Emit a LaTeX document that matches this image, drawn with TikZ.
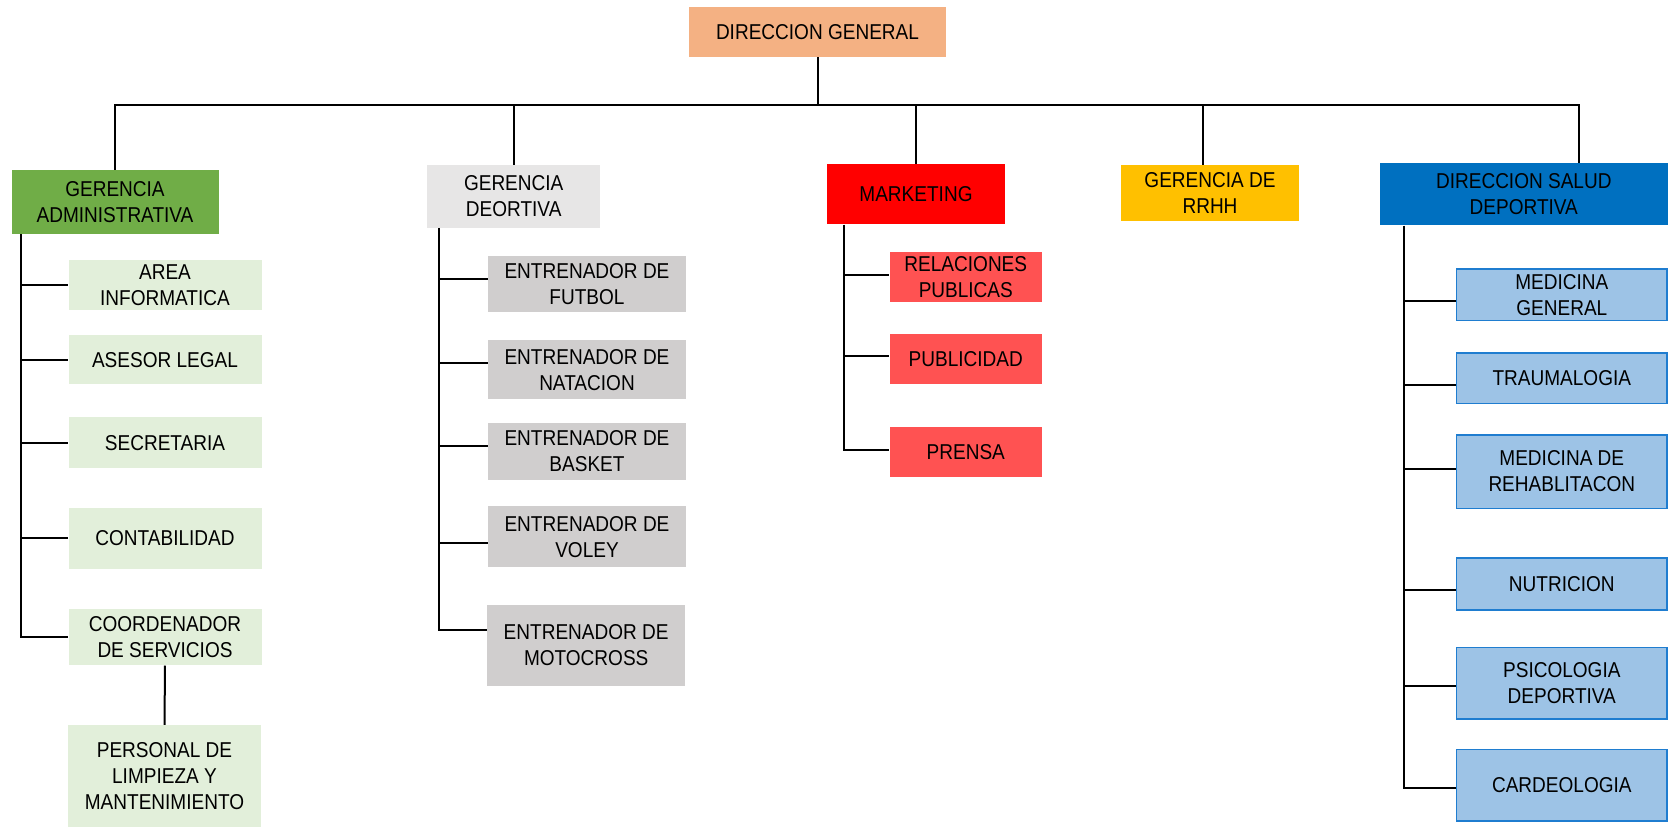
\documentclass[tikz,border=0pt]{standalone}
\usepackage{fontspec}
\setmainfont[FakeStretch=0.885]{Liberation Sans}

\definecolor{cDG}{HTML}{F4B183}
\definecolor{cGA}{HTML}{70AD47}
\definecolor{cGAl}{HTML}{E2EFDA}
\definecolor{cGD}{HTML}{E7E6E6}
\definecolor{cGDl}{HTML}{D0CECE}
\definecolor{cMK}{HTML}{FF0000}
\definecolor{cMKl}{HTML}{FF5252}
\definecolor{cRH}{HTML}{FFC000}
\definecolor{cDS}{HTML}{0070C0}
\definecolor{cDSl}{HTML}{9DC3E6}
\definecolor{cDSb}{HTML}{1F7DD0}

\begin{document}
\begin{tikzpicture}[x=1pt,y=-1pt,
  box/.style={inner sep=0pt, align=center, text=black,
    font=\fontsize{21.5}{26}\selectfont},
  salud/.style={box, fill=cDSl, draw=cDSb, line width=1.5pt},
  link/.style={line width=2pt, black}]
\useasboundingbox (0,0) rectangle (1674,827);

% top level
\node[box, fill=cDG, minimum width=257pt, minimum height=50pt] (dg) at (817.5,32) {DIRECCION GENERAL};

% second level
\node[box, fill=cGA, minimum width=207pt, minimum height=64pt] (ga) at (115,202) {GERENCIA\\ADMINISTRATIVA};
\node[box, fill=cGD, minimum width=173.5pt, minimum height=63pt] (gd) at (513.7,196.2) {GERENCIA\\DEORTIVA};
\node[box, fill=cMK, minimum width=178pt, minimum height=60.6pt] (mk) at (916,194) {MARKETING};
\node[box, fill=cRH, minimum width=178pt, minimum height=56pt] (rh) at (1210,192.7) {GERENCIA DE\\RRHH};
\node[box, fill=cDS, minimum width=287.6pt, minimum height=62pt] (ds) at (1523.8,194.3) {DIRECCION SALUD\\DEPORTIVA};

% administrative units
\begin{scope}[every node/.append style={box, fill=cGAl, minimum width=193pt}]
\node[minimum height=50.7pt] (a1) at (165,285) {AREA\\INFORMATICA};
\node[minimum height=49.3pt] (a2) at (165,359.7) {ASESOR LEGAL};
\node[minimum height=50.4pt] (a3) at (165,442.6) {SECRETARIA};
\node[minimum height=60.7pt] (a4) at (165,538.4) {CONTABILIDAD};
\node[minimum height=56pt] (a5) at (165,637.3) {COORDENADOR\\DE SERVICIOS};
\node[minimum height=101.7pt] (a6) at (164.5,775.8) {PERSONAL DE\\LIMPIEZA Y\\MANTENIMIENTO};
\end{scope}

% coaches
\begin{scope}[every node/.append style={box, fill=cGDl, minimum width=198pt}]
\node[minimum height=56pt] (e1) at (587,284.3) {ENTRENADOR DE\\FUTBOL};
\node[minimum height=59.3pt] (e2) at (587,369.7) {ENTRENADOR DE\\NATACION};
\node[minimum height=57.3pt] (e3) at (587,451.3) {ENTRENADOR DE\\BASKET};
\node[minimum height=61.3pt] (e4) at (587,536.7) {ENTRENADOR DE\\VOLEY};
\node[minimum height=81pt] (e5) at (586.2,645.5) {ENTRENADOR DE\\MOTOCROSS};
\end{scope}

% marketing units
\begin{scope}[every node/.append style={box, fill=cMKl, minimum width=152.3pt}]
\node[minimum height=50pt] (m1) at (965.8,277.3) {RELACIONES\\PUBLICAS};
\node[minimum height=50.3pt] (m2) at (965.8,358.8) {PUBLICIDAD};
\node[minimum height=49.4pt] (m3) at (965.8,452) {PRENSA};
\end{scope}

% sports health units
\begin{scope}[every node/.append style={salud, minimum width=210.3pt}]
\node[minimum height=51.8pt] (s1) at (1561.8,294.7) {MEDICINA\\GENERAL};
\node[minimum height=50.6pt] (s2) at (1561.8,378.3) {TRAUMALOGIA};
\node[minimum height=73.5pt] (s3) at (1561.8,471.5) {MEDICINA DE\\REHABLITACON};
\node[minimum height=51.8pt] (s4) at (1561.8,584.1) {NUTRICION};
\node[minimum height=71.2pt] (s5) at (1561.8,683.3) {PSICOLOGIA\\DEPORTIVA};
\node[minimum height=71.6pt] (s6) at (1561.8,785.1) {CARDEOLOGIA};
\end{scope}

% main bus
\coordinate (bus) at (0,105);
\coordinate (dstop) at ([xshift=55pt]ds.north);
\coordinate (rhtop) at ([xshift=-7pt]rh.north);
\draw[link] (dg.south) -- (dg.south |- bus);
\draw[link] (ga.north) -- (ga.north |- bus) -- (dstop |- bus) -- (dstop);
\draw[link] (gd.north) -- (gd.north |- bus);
\draw[link] (mk.north) -- (mk.north |- bus);
\draw[link] (rhtop) -- (rhtop |- bus);

% administrative branch
\coordinate (gabar) at ([xshift=9.5pt]ga.south west);
\draw[link] (gabar) |- (a5.west);
\foreach \n in {a1,a2,a3,a4}
  \draw[link] (gabar |- \n.west) -- (\n.west);
\draw[link] (a5.south) -- (a6.north);

% coaches branch
\coordinate (gdbar) at ([xshift=12.3pt]gd.south west);
\coordinate (e1p) at ([yshift=5pt]e1.west);
\coordinate (e2p) at ([yshift=6.4pt]e2.west);
\coordinate (e3p) at ([yshift=5.3pt]e3.west);
\coordinate (e4p) at ([yshift=-6pt]e4.west);
\coordinate (e5p) at ([yshift=15.5pt]e5.west);
\draw[link] (gdbar) -- (gdbar |- e5p) -- (e5p);
\foreach \n in {e1p,e2p,e3p,e4p}
  \draw[link] (gdbar |- \n) -- (\n);

% marketing branch
\coordinate (mkbar) at ([xshift=17.3pt]mk.south west);
\coordinate (m1p) at ([yshift=2.6pt]m1.west);
\coordinate (m2p) at ([yshift=2.5pt]m2.west);
\coordinate (m3p) at ([yshift=2pt]m3.west);
\draw[link] (mkbar) |- (m3p);
\foreach \n in {m1p,m2p}
  \draw[link] (mkbar |- \n) -- (\n);

% sports health branch
\coordinate (dsbar) at ([xshift=24.3pt]ds.south west);
\coordinate (s1p) at ([yshift=-6.5pt]s1.west);
\coordinate (s2p) at ([yshift=-7pt]s2.west);
\coordinate (s3p) at ([yshift=2.4pt]s3.west);
\coordinate (s4p) at ([yshift=-6.1pt]s4.west);
\coordinate (s5p) at ([yshift=-2.8pt]s5.west);
\coordinate (s6p) at ([yshift=-3.2pt]s6.west);
\draw[link] (dsbar) |- (s6p);
\foreach \n in {s1p,s2p,s3p,s4p,s5p}
  \draw[link] (dsbar |- \n) -- (\n);
\end{tikzpicture}
\end{document}
